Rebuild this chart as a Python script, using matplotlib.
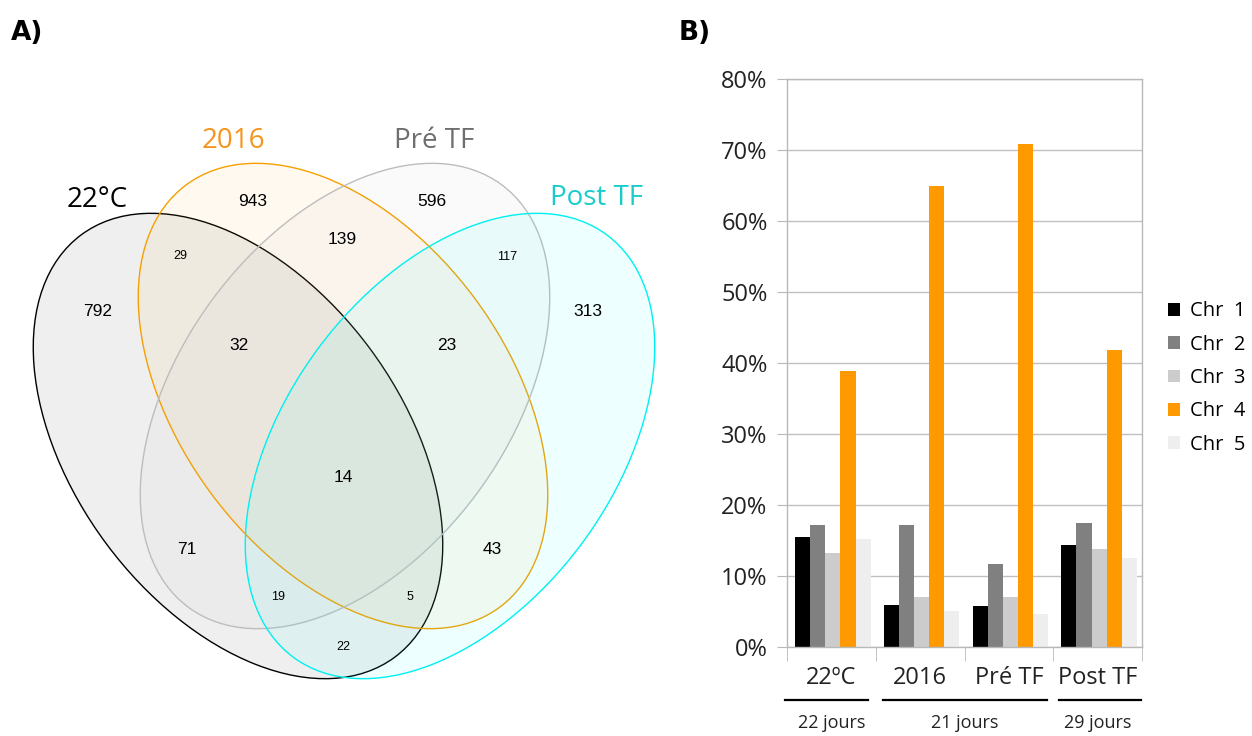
import matplotlib
matplotlib.use("Agg")
import matplotlib.pyplot as plt
import numpy as np
from matplotlib.patches import Ellipse
from matplotlib.transforms import blended_transform_factory

plt.rcParams['font.family'] = ['Open Sans', 'DejaVu Sans']

# ---- data ----
set_names = ['22°C', '2016', 'Pré TF', 'Post TF']
region_counts = [792, 943, 596, 313, 139, 29, 117, 32, 23, 14, 71, 43, 19, 5, 22]

groups = ['22ºC', '2016', 'Pré TF', 'Post TF']
durations = ['22 jours', '21 jours', '29 jours']
chr_names = ['Chr  1', 'Chr  2', 'Chr  3', 'Chr  4', 'Chr  5']
chr1 = [15.5, 5.9, 5.8, 14.4]
chr2 = [17.2, 17.2, 11.7, 17.5]
chr3 = [13.2, 7.0, 7.0, 13.8]
chr4 = [38.9, 65.0, 70.8, 41.8]
chr5 = [15.2, 5.1, 4.6, 12.5]

# ---- layout / style ----
W, H = 1252, 736
fig = plt.figure(figsize=(W / 100, H / 100), dpi=100)

# Venn panel drawn in pixel-like units
va = fig.add_axes([0, 0, 660 / W, 1])
va.set_xlim(0, 660)
va.set_ylim(H, 0)
va.axis('off')

ell_center = [(238, 446), (343, 396), (345, 396), (450, 446)]
ell_angle = [53.4, 53.4, -53.4, -53.4]
ell_edge = ['black', '#f5a000', '#bdbdbd', '#00f0f0']
ell_face = ['#808080', '#ffa500', '#a9a9a9', '#00ffff']
ell_alpha = [0.12, 0.06, 0.05, 0.07]
for c, ang, ec, fc, al in zip(ell_center, ell_angle, ell_edge, ell_face, ell_alpha):
    va.add_patch(Ellipse(c, 2 * 263, 2 * 164, angle=ang, facecolor=fc,
                         alpha=al, edgecolor='none'))
    va.add_patch(Ellipse(c, 2 * 263, 2 * 164, angle=ang, facecolor='none',
                         edgecolor=ec, lw=1.0))

name_xy = [(97, 200), (233, 141), (434, 141), (597, 198)]
name_col = ['black', '#f7941d', '#6e6e6e', '#19cccc']
for name, (x, y), col in zip(set_names, name_xy, name_col):
    va.text(x, y, name, color=col, fontsize=20, ha='center', va='center')

region_xy = [(98, 312), (253, 202), (432, 202), (588, 312), (342, 240),
             (180, 256), (507, 257), (239, 346), (447, 346), (343, 478),
             (187, 549), (492, 549), (278, 597), (410, 597), (343, 647)]
small = {29, 117, 19, 5, 22}
for n, (x, y) in zip(region_counts, region_xy):
    va.text(x, y, str(n), fontsize=9 if n in small else 12.5,
            family='Liberation Sans', ha='center', va='center')

fig.text(11 / W, 1 - 33 / H, 'A)', fontsize=19, fontweight='bold',
         family='DejaVu Sans', va='center')
fig.text(679 / W, 1 - 33 / H, 'B)', fontsize=19, fontweight='bold',
         family='DejaVu Sans', va='center')

# ---- bar chart ----
ax = fig.add_axes([787 / W, 1 - 647 / H, (1142 - 787) / W, (647 - 79) / H])
series = [chr1, chr2, chr3, chr4, chr5]
colors = ['#000000', '#808080', '#cccccc', '#ff9900', '#eeeeee']
x = np.arange(len(groups))
bw = 15 / 88
for k, (vals, col, lab) in enumerate(zip(series, colors, chr_names)):
    ax.bar(x + (k - 2) * bw + 1.5 / 88, np.array(vals) / 100, bw, color=col,
           label=lab, zorder=2)

ax.set_xlim(-0.5, 3.5)
ax.set_ylim(0, 0.8)
ax.set_yticks(np.arange(0, 0.81, 0.1))
ax.set_yticklabels([f'{v}%' for v in range(0, 81, 10)], fontsize=17, color='#222222')
ax.grid(axis='y', color='#c0c0c0', lw=1, zorder=0)
ax.set_axisbelow(True)
for s in ax.spines.values():
    s.set_color('#b8b8b8')
    s.set_linewidth(1)
ax.tick_params(axis='y', length=7, color='#b8b8b8', pad=7)

ax.set_xticks(x)
ax.set_xticklabels(groups, fontsize=17, color='#222222')
ax.tick_params(axis='x', which='major', length=0, pad=14)
ax.set_xticks(np.arange(-0.5, 3.6, 1), minor=True)
ax.tick_params(axis='x', which='minor', length=10, color='#b8b8b8')

tr = blended_transform_factory(ax.transData, ax.transAxes)
under_spans = [(-0.52, 0.41), (0.58, 2.43), (2.57, 3.49)]
dur_x = [0, 1.5, 3]
for (x0, x1), d, dx in zip(under_spans, durations, dur_x):
    ax.plot([x0, x1], [-0.093, -0.093], color='black', lw=1.6,
            transform=tr, clip_on=False)
    ax.text(dx, -0.133, d, transform=tr, ha='center', va='center',
            fontsize=13, color='#222222')

ax.legend(loc='center left', bbox_to_anchor=(1.073, 0.4736), frameon=False,
          fontsize=14.5, handlelength=0.6, handleheight=0.6,
          handletextpad=0.5, labelspacing=0.66, borderpad=0, borderaxespad=0)

fig.savefig('out.png', dpi=100)
